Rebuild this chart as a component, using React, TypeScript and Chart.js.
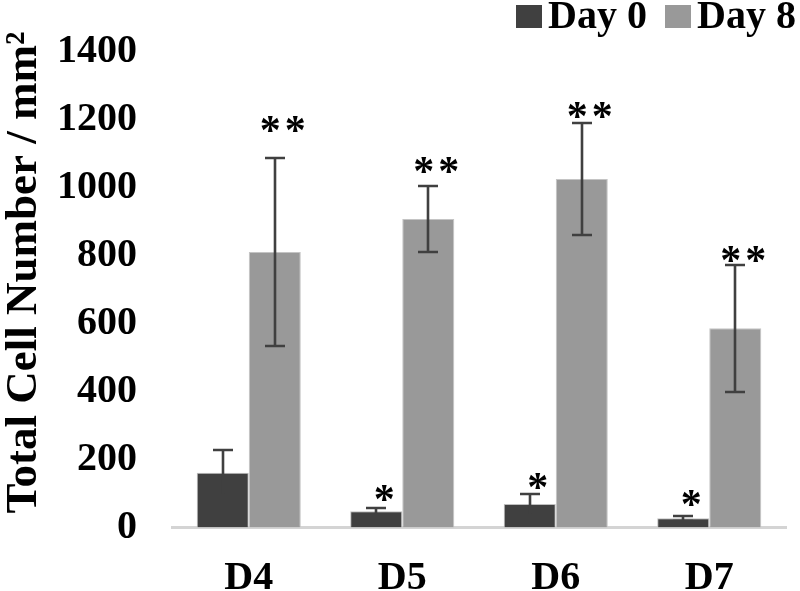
import { useEffect, useRef } from "react";
import { Chart, registerables } from "chart.js";

Chart.register(...registerables);

const categories = ["D4", "D5", "D6", "D7"];
const seriesNames = ["Day 0", "Day 8"];
const day0Values = [161, 48, 69, 27];
const day0Errors = [66, 10, 31, 7];
const day8Values = [810, 907, 1025, 586];
const day8Errors = [277, 97, 164, 187];
const day0Stars = ["", "*", "*", "*"];
const day0StarLevels = [0, 102, 137, 87];
const day8Stars = ["**", "**", "**", "**"];
const day8StarLevels = [1187, 1067, 1228, 804];
const yTicks = [0, 200, 400, 600, 800, 1000, 1200, 1400];
const yTitle = "Total Cell Number / mm²";

const FONT = "'Liberation Serif', 'Times New Roman', serif";
const DARK = "#404040";
const LIGHT = "#999999";

const overlay = {
  id: "overlay",
  afterDatasetsDraw(chart: any) {
    const ctx = chart.ctx;
    const ys = chart.scales.y;
    const errs = [day0Errors, day8Errors];
    const stars = [day0Stars, day8Stars];
    const levels = [day0StarLevels, day8StarLevels];
    ctx.save();
    chart.data.datasets.forEach((ds: any, i: number) => {
      const meta = chart.getDatasetMeta(i);
      meta.data.forEach((bar: any, j: number) => {
        const v = ds.data[j];
        const e = errs[i][j];
        const x = Math.round(bar.x);
        const yt = Math.round(ys.getPixelForValue(v + e));
        const yb = Math.round(ys.getPixelForValue(Math.max(0, v - e)));
        ctx.strokeStyle = DARK;
        ctx.lineWidth = 2.6;
        ctx.beginPath();
        ctx.moveTo(x, yt);
        ctx.lineTo(x, yb);
        ctx.moveTo(x - 10, yt);
        ctx.lineTo(x + 10, yt);
        ctx.moveTo(x - 10, yb);
        ctx.lineTo(x + 10, yb);
        ctx.stroke();
      });
    });
    ctx.fillStyle = "#000";
    ctx.font = `bold 42px ${FONT}`;
    ctx.textAlign = "center";
    ctx.textBaseline = "alphabetic";
    chart.data.datasets.forEach((ds: any, i: number) => {
      const meta = chart.getDatasetMeta(i);
      meta.data.forEach((bar: any, j: number) => {
        const s = stars[i][j];
        if (!s) return;
        const cy = ys.getPixelForValue(levels[i][j]) + 20;
        const cx = bar.x + 8;
        const n = s.length;
        for (let k = 0; k < n; k++) {
          const off = (k - (n - 1) / 2) * 25;
          ctx.fillText("*", cx + off, cy);
        }
      });
    });
    ctx.restore();
  },
  afterDraw(chart: any) {
    const ctx = chart.ctx;
    ctx.save();
    // legend
    ctx.font = `bold 40px ${FONT}`;
    ctx.textBaseline = "alphabetic";
    ctx.textAlign = "left";
    let x = 516;
    chart.data.datasets.forEach((ds: any) => {
      ctx.fillStyle = ds.backgroundColor;
      ctx.fillRect(x, 5, 26, 23);
      ctx.fillStyle = "#000";
      ctx.fillText(ds.label, x + 32, 28);
      x += 149;
    });
    // y title
    const area = chart.chartArea;
    ctx.translate(36, (area.top + area.bottom) / 2 - 17);
    ctx.rotate(-Math.PI / 2);
    ctx.font = `bold 45px ${FONT}`;
    ctx.textAlign = "center";
    ctx.fillStyle = "#000";
    ctx.fillText(yTitle, 0, 0);
    ctx.restore();
  },
};

export default function App() {
  const ref = useRef<HTMLCanvasElement | null>(null);
  useEffect(() => {
    if (!ref.current) return;
    const chart = new Chart(ref.current, {
      type: "bar",
      data: {
        labels: categories,
        datasets: [
          {
            label: seriesNames[0],
            data: day0Values,
            backgroundColor: DARK,
            borderColor: "#bfbfbf",
            borderWidth: 1,
            categoryPercentage: 0.678,
            barPercentage: 1,
          },
          {
            label: seriesNames[1],
            data: day8Values,
            backgroundColor: LIGHT,
            borderColor: "#c4c4c4",
            borderWidth: 1,
            categoryPercentage: 0.678,
            barPercentage: 1,
          },
        ],
      },
      options: {
        responsive: false,
        animation: false,
        layout: { padding: { top: 51.5, right: 14, left: 0, bottom: 0 } },
        plugins: {
          legend: { display: false },
          tooltip: { enabled: false },
          title: { display: false },
        },
        scales: {
          x: {
            grid: { display: false, drawTicks: false },
            border: { display: true, color: "#d4d4d4", width: 3 },
            ticks: {
              color: "#000",
              padding: 27,
              font: { family: FONT, size: 40, weight: "bold" },
            },
            afterFit: (s: any) => {
              s.height = 63.5;
              s.paddingLeft = 0;
              s.paddingRight = 0;
            },
          },
          y: {
            min: 0,
            max: 1400,
            grid: { display: false, drawTicks: false },
            border: { display: false },
            afterBuildTicks: (s: any) => {
              s.ticks = yTicks.map((v) => ({ value: v }));
            },
            ticks: {
              color: "#000",
              padding: 35,
              font: { family: FONT, size: 40, weight: "bold" },
              callback: (v: any) => String(v),
            },
            afterFit: (s: any) => {
              s.width = 172;
              s.paddingTop = 0;
              s.paddingBottom = 0;
            },
          },
        },
      },
      plugins: [overlay],
    } as any);
    return () => chart.destroy();
  }, []);
  return (
    <div style={{ position: "fixed", left: 0, top: 0, width: 800, height: 591, background: "#fff" }}>
      <canvas ref={ref} width={800} height={591} style={{ display: "block" }} />
    </div>
  );
}
